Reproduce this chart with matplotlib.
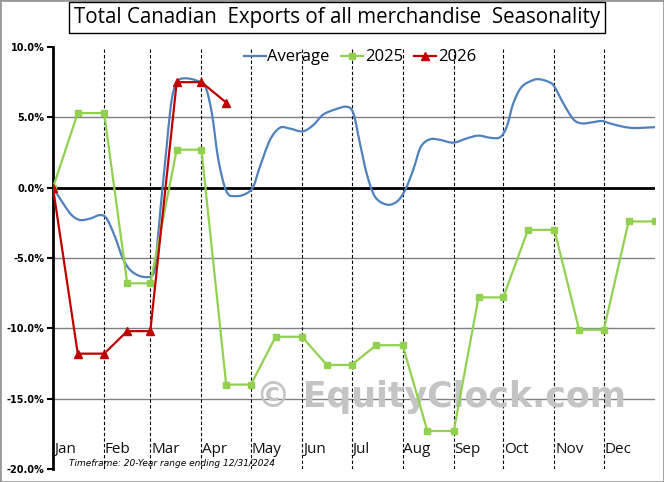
import numpy as np
import matplotlib
matplotlib.use("Agg")
import matplotlib.pyplot as plt
from matplotlib.path import Path
from matplotlib.patches import PathPatch, Rectangle
from matplotlib.lines import Line2D

# month layout (day of year)
months = ["Jan", "Feb", "Mar", "Apr", "May", "Jun",
          "Jul", "Aug", "Sep", "Oct", "Nov", "Dec"]
month_start = [0, 31, 59, 90, 120, 151, 181, 212, 243, 273, 304, 334]
year_end = 365

# yearly series: value held from mid-month to month end
x_2025 = [0, 15, 31, 45, 59, 75, 90, 105, 120, 135, 151, 166, 181,
          196, 212, 227, 243, 258, 273, 288, 304, 319, 334, 349, 365]
y_2025 = [0.0, 5.3, 5.3, -6.8, -6.8, 2.7, 2.7, -14.0, -14.0, -10.6, -10.6,
          -12.6, -12.6, -11.2, -11.2, -17.3, -17.3, -7.8, -7.8, -3.0, -3.0,
          -10.1, -10.1, -2.4, -2.4]

x_2026 = [0, 15, 31, 45, 59, 75, 90, 105]
y_2026 = [0.0, -11.8, -11.8, -10.2, -10.2, 7.5, 7.5, 6.05]

# 20-year average
x_avg = [0, 6.2, 11.3, 16.4, 22.4, 28.5, 32.6, 37.6, 42.6, 47.7, 54.8,
         61.0, 63.1, 65.1, 67.1, 69.1, 71.1, 73.1, 76.2, 81.2, 87.3, 92.3,
         96.3, 100.3, 105.3, 111.4, 117.4, 121.4, 125.5, 131.6, 137.6,
         143.7, 151.4, 157.8, 163.9, 172.0, 178.1, 182.1, 186.1, 190.2,
         195.2, 202.3, 208.4, 213.4, 218.5, 223.0, 228.6, 234.6, 242.7,
         250.8, 257.9, 265.0, 271.0, 275.1, 279.1, 284.2, 291.2, 295.3,
         300.3, 303.8, 309.4, 315.5, 320.6, 326.6, 332.7, 337.7, 345.8,
         351.9, 357.9, 363.4, 365]
y_avg = [0.0, -1.13, -1.95, -2.3, -2.2, -1.95, -2.2, -3.5, -5.1, -5.95, -6.34,
         -6.1, -4.2, -1.6, 0.8, 3.15, 5.5, 6.9, 7.65, 7.77, 7.6, 7.2,
         5.3, 1.97, -0.3, -0.6, -0.4, 0.07, 1.5, 3.4, 4.26,
         4.2, 4.0, 4.45, 5.2, 5.6, 5.75, 5.3, 3.15, 1.0,
         -0.64, -1.2, -1.0, -0.2, 1.3, 2.9, 3.44, 3.4, 3.2,
         3.5, 3.7, 3.55, 3.58, 4.33, 6.0, 7.17, 7.65, 7.7,
         7.53, 7.22, 6.0, 4.86, 4.57, 4.64, 4.74, 4.57, 4.33,
         4.24, 4.26, 4.29, 4.3]

y_ticks = [10, 5, 0, -5, -10, -15, -20]

BLUE = "#4F81BD"
GREEN = "#92D050"
RED = "#C00000"


def smooth_path(xs, ys):
    # Excel style smoothed line as cubic bezier segments
    pts = np.column_stack([xs, ys]).astype(float)
    n = len(pts)
    verts = [pts[0]]
    codes = [Path.MOVETO]
    for i in range(n - 1):
        p0 = pts[i - 1] if i > 0 else pts[i]
        p1 = pts[i]
        p2 = pts[i + 1]
        p3 = pts[i + 2] if i + 2 < n else pts[i + 1]
        verts += [p1 + (p2 - p0) / 6, p2 - (p3 - p1) / 6, p2]
        codes += [Path.CURVE4] * 3
    return Path(verts, codes)


fig = plt.figure(figsize=(6.64, 4.82), dpi=100)
ax = fig.add_axes([53 / 664, 1 - 469 / 482, 602 / 664, 422 / 482])
ax.set_xlim(0, year_end)
ax.set_ylim(-20, 10)

# grid
for v in [5, -5, -10, -15]:
    ax.axhline(v, color="#808080", lw=1, zorder=1)
ax.axhline(0, color="black", lw=2, zorder=2)
ax.vlines(month_start[1:], -20, 10, colors="black", lw=0.8,
          linestyles=(0, (3, 2)), zorder=1)

# watermark
ax.text(235, -14.9, "\u00a9 EquityClock.com", fontsize=25, fontweight="bold",
        color="#c4c4c4", ha="center", va="center", zorder=1.5)

# series
ax.add_patch(PathPatch(smooth_path(x_avg, y_avg), facecolor="none",
                       edgecolor=BLUE, lw=1.6, zorder=3))
ax.plot(x_2025, y_2025, color=GREEN, lw=1.6, marker="s", ms=5,
        mec=GREEN, zorder=4)
ax.plot(x_2026, y_2026, color=RED, lw=1.6, marker="^", ms=6,
        mec=RED, zorder=5)

# month labels
for name, start in zip(months, month_start):
    ax.text(start + 0.5, -18.6, name, fontsize=11, ha="left", va="center",
            family="Open Sans", color="#111111")

ax.text(10, -19.62, "Timeframe: 20-Year range ending 12/31/2024",
        fontsize=6.5, style="italic", ha="left", va="center")

# axes styling
for s in ["top", "right", "bottom"]:
    ax.spines[s].set_visible(False)
ax.spines["left"].set_linewidth(2)
ax.set_xticks([])
ax.set_yticks(y_ticks)
ax.set_yticklabels([f"{v:.1f}%" for v in y_ticks], fontsize=7,
                   fontweight="bold")
ax.tick_params(axis="y", length=4, width=1.5, pad=2)

handles = [Line2D([], [], color=BLUE, lw=1.6),
           Line2D([], [], color=GREEN, lw=1.6, marker="s", ms=5),
           Line2D([], [], color=RED, lw=1.6, marker="^", ms=6)]
ax.legend(handles, ["Average", "2025", "2026"], loc="upper center",
          bbox_to_anchor=(0.51, 1.03), ncol=3, frameon=False,
          prop={"family": "Open Sans", "size": 12}, handlelength=1.3,
          handletextpad=0.1, columnspacing=0.7)

# title box
fig.text(337 / 664, 1 - 17.5 / 482,
         "Total Canadian  Exports of all merchandise  Seasonality",
         fontsize=14.8, family="Open Sans", ha="center", va="center",
         bbox=dict(boxstyle="square,pad=0.25", fc="white", ec="black", lw=1))

# outer frame
fig.patches.append(Rectangle((0, 0), 1, 1, transform=fig.transFigure,
                             fill=False, ec="#999999", lw=2))

fig.savefig("out.png", dpi=100)
